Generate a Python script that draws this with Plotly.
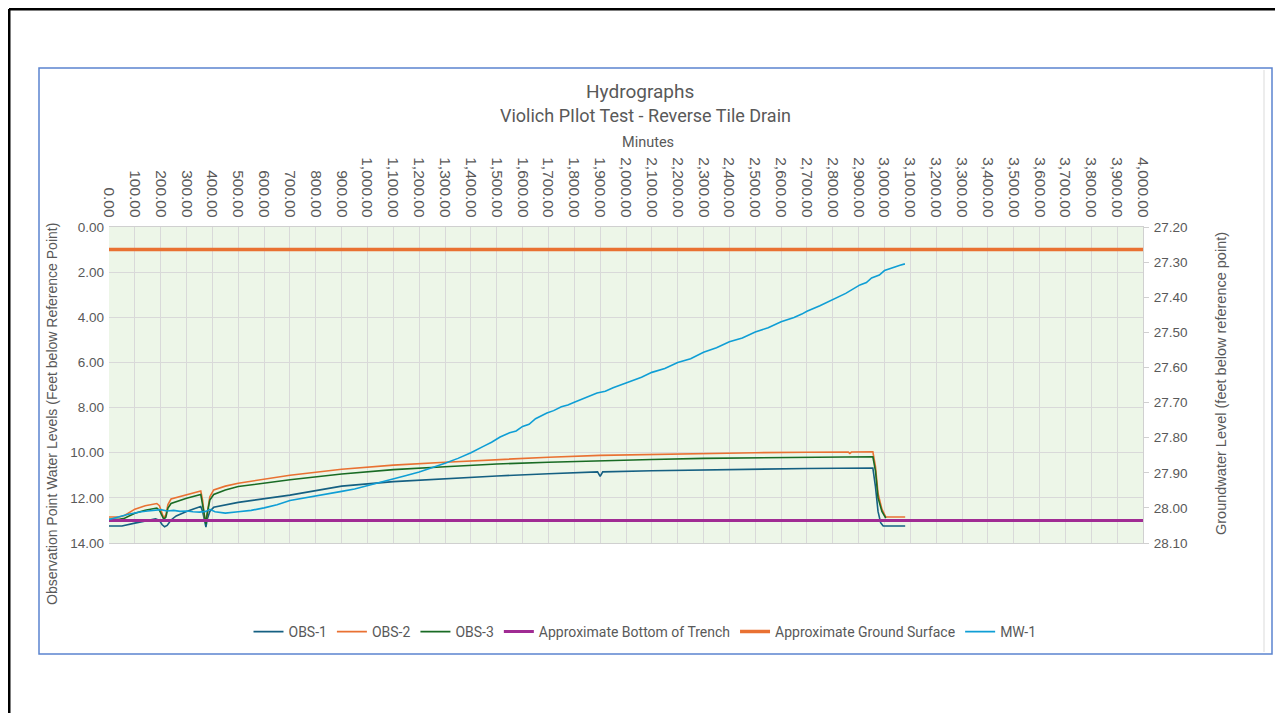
import plotly.graph_objects as go

# ---------------- data ----------------
x_ticks = list(range(0, 4001, 100))
x_tick_text = ["0.00", "100.00", "200.00", "300.00", "400.00", "500.00", "600.00", "700.00", "800.00",
               "900.00", "1,000.00", "1,100.00", "1,200.00", "1,300.00", "1,400.00", "1,500.00", "1,600.00",
               "1,700.00", "1,800.00", "1,900.00", "2,000.00", "2,100.00", "2,200.00", "2,300.00",
               "2,400.00", "2,500.00", "2,600.00", "2,700.00", "2,800.00", "2,900.00", "3,000.00",
               "3,100.00", "3,200.00", "3,300.00", "3,400.00", "3,500.00", "3,600.00", "3,700.00",
               "3,800.00", "3,900.00", "4,000.00"]
y_ticks = [0, 2, 4, 6, 8, 10, 12, 14]
y_tick_text = ["0.00", "2.00", "4.00", "6.00", "8.00", "10.00", "12.00", "14.00"]
y2_ticks = [27.2, 27.3, 27.4, 27.5, 27.6, 27.7, 27.8, 27.9, 28.0, 28.1]
y2_tick_text = ["27.20", "27.30", "27.40", "27.50", "27.60", "27.70", "27.80", "27.90", "28.00", "28.10"]

obs1_min = [0, 50, 100, 150, 180, 195, 205, 215, 225, 240, 260, 300, 355, 362, 370, 375, 380, 390, 405, 450,
            500, 700, 900, 1100, 1300, 1500, 1700, 1890, 1900, 1910, 2100, 2300, 2500, 2700, 2955, 2965,
            2975, 2985, 2995, 3080]
obs1_val = [13.25, 13.25, 13.12, 13.0, 12.93, 13.0, 13.18, 13.28, 13.22, 12.98, 12.8, 12.6, 12.38, 12.6, 13.1,
            13.3, 12.95, 12.6, 12.42, 12.3, 12.2, 11.88, 11.48, 11.28, 11.14, 11.03, 10.93, 10.85, 11.05,
            10.85, 10.8, 10.76, 10.73, 10.7, 10.68, 11.5, 12.6, 13.1, 13.25, 13.25]

obs2_min = [0, 40, 60, 100, 140, 185, 195, 205, 212, 220, 228, 240, 300, 355, 362, 370, 375, 380, 390, 405,
            450, 500, 700, 900, 1100, 1300, 1500, 1700, 1900, 2100, 2300, 2500, 2700, 2860, 2866, 2872,
            2955, 2965, 2975, 2990, 3005, 3080]
obs2_val = [12.85, 12.85, 12.78, 12.5, 12.35, 12.25, 12.35, 12.7, 12.9, 12.75, 12.3, 12.05, 11.87, 11.7, 12.1,
            12.9, 13.05, 12.6, 11.95, 11.65, 11.48, 11.35, 11.0, 10.73, 10.55, 10.42, 10.3, 10.2, 10.12,
            10.07, 10.03, 10.0, 9.98, 9.97, 10.03, 9.97, 9.96, 10.6, 11.8, 12.5, 12.85, 12.85]

obs3_min = [0, 40, 60, 100, 140, 185, 195, 205, 212, 220, 228, 240, 300, 355, 362, 370, 375, 380, 390, 405,
            450, 500, 700, 900, 1100, 1300, 1500, 1700, 1900, 2100, 2300, 2500, 2700, 2955, 2965, 2975,
            2990, 3005]
obs3_val = [12.95, 12.95, 12.9, 12.68, 12.55, 12.45, 12.55, 12.8, 12.95, 12.85, 12.45, 12.25, 12.02, 11.85,
            12.3, 13.0, 13.15, 12.7, 12.1, 11.85, 11.65, 11.5, 11.2, 10.94, 10.75, 10.62, 10.5, 10.42, 10.35,
            10.3, 10.25, 10.22, 10.2, 10.18, 10.8, 12.0, 12.6, 12.9]

trench_min = [0, 4000]
trench_val = [13.0, 13.0]

ground_min = [0, 4000]
ground_val = [1.0, 1.0]

mw1_min = [0, 25, 50, 75, 100, 125, 150, 175, 200, 225, 250, 275, 300, 325, 350, 375, 390, 410, 450, 500,
           550, 600, 650, 700, 750, 800, 850, 900, 950, 1000, 1050, 1100, 1150, 1200, 1250, 1300, 1350, 1400,
           1450, 1480, 1513, 1550, 1575, 1600, 1625, 1650, 1694, 1720, 1750, 1775, 1800, 1850, 1888, 1920,
           1950, 2000, 2027, 2060, 2100, 2150, 2200, 2250, 2300, 2350, 2400, 2450, 2500, 2550, 2600, 2650,
           2680, 2700, 2750, 2800, 2850, 2905, 2930, 2950, 2980, 3000, 3020, 3040, 3060, 3079]
mw1_val = [28.033, 28.029, 28.023, 28.018, 28.014, 28.011, 28.009, 28.007, 28.005, 28.009, 28.007, 28.010,
           28.009, 28.011, 28.012, 28.010, 28.004, 28.011, 28.015, 28.011, 28.007, 28.000, 27.991, 27.979,
           27.973, 27.967, 27.960, 27.953, 27.946, 27.937, 27.928, 27.919, 27.908, 27.898, 27.886, 27.873,
           27.859, 27.843, 27.824, 27.813, 27.798, 27.786, 27.781, 27.768, 27.762, 27.746, 27.730, 27.723,
           27.712, 27.707, 27.699, 27.685, 27.673, 27.668, 27.658, 27.644, 27.637, 27.628, 27.614, 27.603,
           27.586, 27.575, 27.557, 27.544, 27.527, 27.516, 27.499, 27.487, 27.470, 27.458, 27.448, 27.440,
           27.424, 27.407, 27.389, 27.365, 27.358, 27.345, 27.337, 27.324, 27.318, 27.314, 27.309, 27.305]

# ---------------- geometry (screen px; page body has an 8 px margin) ----------------
OFF = 8
W, H = 1283 - 2 * OFF, 721 - 2 * OFF
PL, PR, PT, PB = 109, 1143, 227, 543          # plot area on screen
L, T = PL - OFF, PT - OFF
R, B = W - (PR - OFF), H - (PB - OFF)
pw, ph = W - L - R, H - T - B


def px(x):
    return (x - OFF - L) / pw


def py(y):
    return (H - B - (y - OFF)) / ph


C_OBS1 = "#156082"
C_ORANGE = "#E97132"
C_OBS3 = "#196B24"
C_PURPLE = "#A02B93"
C_MW1 = "#0F9ED5"
GRAY = "#595959"
NARROW = "Roboto, Liberation Sans, sans-serif"
REG = "Liberation Sans, Arial, sans-serif"

fig = go.Figure()
fig.add_trace(go.Scatter(x=obs1_min, y=obs1_val, name="OBS-1", mode="lines",
                         line=dict(color=C_OBS1, width=1.6)))
fig.add_trace(go.Scatter(x=obs2_min, y=obs2_val, name="OBS-2", mode="lines",
                         line=dict(color=C_ORANGE, width=1.6)))
fig.add_trace(go.Scatter(x=obs3_min, y=obs3_val, name="OBS-3", mode="lines",
                         line=dict(color=C_OBS3, width=1.6)))
fig.add_trace(go.Scatter(x=trench_min, y=trench_val, name="Approximate Bottom of Trench", mode="lines",
                         line=dict(color=C_PURPLE, width=3)))
fig.add_trace(go.Scatter(x=ground_min, y=ground_val, name="Approximate Ground Surface", mode="lines",
                         line=dict(color=C_ORANGE, width=3.5)))
fig.add_trace(go.Scatter(x=mw1_min, y=mw1_val, name="MW-1", mode="lines", yaxis="y2",
                         line=dict(color=C_MW1, width=1.6)))

fig.update_layout(
    width=W, height=H,
    margin=dict(l=L, r=R, t=T, b=B, autoexpand=False),
    paper_bgcolor="white",
    plot_bgcolor="#EDF6E8",
    font=dict(family=REG, color=GRAY, size=13),
    showlegend=True,
    legend=dict(orientation="h", x=px(645), xanchor="center", y=py(632), yanchor="middle",
                font=dict(family=NARROW, size=14, color=GRAY), bgcolor="rgba(0,0,0,0)",
                itemwidth=30, tracegroupgap=0),
    xaxis=dict(side="top", range=[0, 4000], tickmode="array", tickvals=x_ticks,
               ticktext=x_tick_text, tickangle=90, ticklabelstandoff=3,
               tickfont=dict(family=REG, size=15.5, color=GRAY),
               showgrid=True, gridcolor="#D9D9D9", gridwidth=1,
               showline=True, linecolor="#D0D0D0", mirror=True, ticks="", zeroline=False),
    yaxis=dict(range=[14, 0], tickmode="array", tickvals=y_ticks, ticktext=y_tick_text,
               tickfont=dict(size=13.5, color=GRAY), showgrid=True, gridcolor="#D9D9D9",
               zeroline=False, showline=False, ticks="", ticklabelstandoff=4),
    yaxis2=dict(overlaying="y", side="right", range=[28.1, 27.2], tickmode="array",
                tickvals=y2_ticks, ticktext=y2_tick_text,
                tickfont=dict(size=13.5, color=GRAY), showgrid=False, zeroline=False,
                showline=True, linecolor="#D0D0D0", ticks="outside", ticklen=5,
                tickcolor="#D0D0D0", ticklabelstandoff=2),
)

annots = [
    dict(text="Hydrographs", x=px(640), y=py(92), font=dict(family=NARROW, size=19, color=GRAY)),
    dict(text="Violich PIlot Test - Reverse Tile Drain", x=px(645), y=py(116),
         font=dict(family=NARROW, size=18, color=GRAY)),
    dict(text="Minutes", x=px(648), y=py(143), font=dict(family=NARROW, size=14.5, color=GRAY)),
    dict(text="Observation Point Water Levels (Feet below Reference Point)", x=px(52), y=py(414),
         textangle=-90, font=dict(family=REG, size=14, color=GRAY)),
    dict(text="Groundwater Level (feet below reference point)", x=px(1221), y=py(384),
         textangle=-90, font=dict(family=REG, size=14.5, color=GRAY)),
]
for a in annots:
    fig.add_annotation(xref="paper", yref="paper", showarrow=False, xanchor="center",
                       yanchor="middle", **a)

shapes = [
    # faint inner shadow line
    dict(type="line", x0=px(1264), x1=px(1264), y0=py(70), y1=py(652),
         line=dict(color="#EDEDED", width=2)),
    # blue chart frame
    dict(type="rect", x0=px(39), x1=px(1272), y0=py(654), y1=py(68),
         line=dict(color="#5B84CF", width=1.5)),
    # black outer border (top and left)
    dict(type="line", x0=px(9), x1=px(1300), y0=py(9), y1=py(9), line=dict(color="black", width=3)),
    dict(type="line", x0=px(9), x1=px(9), y0=py(9), y1=py(740), line=dict(color="black", width=3)),
]
for s in shapes:
    fig.add_shape(xref="paper", yref="paper", layer="above", **s)

fig.write_html("out.html")
